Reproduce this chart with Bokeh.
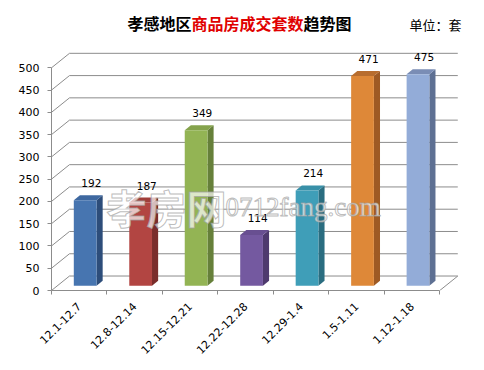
from math import pi
from bokeh.plotting import figure
from bokeh.models import Range1d, FixedTicker, Label, ColumnDataSource
from bokeh.core.properties import value
from bokeh.embed import file_html
from bokeh.resources import INLINE

# ---- data ----
categories = ["12.1-12.7", "12.8-12.14", "12.15-12.21", "12.22-12.28", "12.29-1.4", "1.5-1.11", "1.12-1.18"]
counts = [192, 187, 349, 114, 214, 471, 475]
y_ticks = [0, 50, 100, 150, 200, 250, 300, 350, 400, 450, 500]
title_parts = ["孝感地区", "商品房成交套数", "趋势图"]
unit_text = "单位：套"
watermark_cn = "孝房网"
watermark_en = "0712fang.com"

# ---- styles ----
front_colors = ["#4775B0", "#B24542", "#93B454", "#7459A0", "#3F9EB8", "#DE8838", "#93ACD8"]
side_colors = ["#2D4D7A", "#7A2D2B", "#66803A", "#4E3A6E", "#2A6D80", "#9E5A24", "#5E7093"]
top_colors = ["#3E68A0", "#A03E3B", "#85A34C", "#684F91", "#3890A8", "#B86D2E", "#7A8DB5"]
GRID = "#8C8C8C"
DEPTH_X = 0.3245   # wall depth in category units
DEPTH_Y = 32.5     # wall depth in value units
F0, F1 = 0.33, 0.67  # bar front/back position inside depth
BAR_W = 0.41
YMAX = y_ticks[-1]
X_END = 7.698      # plot area extends to the right for the unit label
Y_END = 642.1      # plot area extends upward to hold the title

n = len(categories)
p = figure(width=484, height=370, output_backend="svg", toolbar_location=None,
           x_range=Range1d(0, X_END), y_range=Range1d(0, Y_END),
           min_border_left=51, min_border_right=6, min_border_top=4, min_border_bottom=80)
p.outline_line_color = None
p.xgrid.visible = False
p.ygrid.visible = False
p.background_fill_color = "white"
p.border_fill_color = "white"
p.styles = {"outline": "1px solid #8C8C8C", "outline-offset": "-2px"}

# ---- walls: back gridlines, side-wall diagonals, floor edge ----
p.segment(x0=[DEPTH_X] * len(y_ticks), y0=[v + DEPTH_Y for v in y_ticks],
          x1=[n + DEPTH_X] * len(y_ticks), y1=[v + DEPTH_Y for v in y_ticks],
          line_color=GRID, line_width=1)
p.segment(x0=[0] * len(y_ticks), y0=y_ticks,
          x1=[DEPTH_X] * len(y_ticks), y1=[v + DEPTH_Y for v in y_ticks],
          line_color=GRID, line_width=1)
p.segment(x0=[n], y0=[0], x1=[n + DEPTH_X], y1=[DEPTH_Y], line_color=GRID, line_width=1)

# ---- 3D bars ----
fd = F1 - F0
xl = [i + 0.5 + F0 * DEPTH_X - BAR_W / 2 for i in range(n)]
xr = [i + 0.5 + F0 * DEPTH_X + BAR_W / 2 for i in range(n)]
bot = [F0 * DEPTH_Y] * n
top = [v + F0 * DEPTH_Y for v in counts]

side_xs = [[xr[i], xr[i] + fd * DEPTH_X, xr[i] + fd * DEPTH_X, xr[i]] for i in range(n)]
side_ys = [[bot[i], bot[i] + fd * DEPTH_Y, top[i] + fd * DEPTH_Y, top[i]] for i in range(n)]
top_xs = [[xl[i], xr[i], xr[i] + fd * DEPTH_X, xl[i] + fd * DEPTH_X] for i in range(n)]
top_ys = [[top[i], top[i], top[i] + fd * DEPTH_Y, top[i] + fd * DEPTH_Y] for i in range(n)]

p.patches(xs=side_xs, ys=side_ys, fill_color=side_colors, line_color=None)
p.patches(xs=top_xs, ys=top_ys, fill_color=top_colors, line_color=None)
p.quad(left=xl, right=xr, bottom=bot, top=top, fill_color=front_colors, line_color=None)

# ---- value labels ----
lab_src = ColumnDataSource(dict(x=[i + 0.5 + F1 * DEPTH_X for i in range(n)],
                                y=[v + F1 * DEPTH_Y for v in counts],
                                t=[str(v) for v in counts]))
p.text(x="x", y="y", text="t", source=lab_src, text_align="center", text_baseline="bottom",
       y_offset=-8, text_font=value("DejaVu Sans"), text_font_size="10.5px", text_color="black")

# ---- axes ----
p.yaxis.ticker = FixedTicker(ticks=y_ticks, minor_ticks=[])
p.yaxis.bounds = (0, YMAX)
p.yaxis.axis_line_color = GRID
p.yaxis.major_tick_line_color = GRID
p.yaxis.major_tick_in = 0
p.yaxis.major_tick_out = 4
p.yaxis.minor_tick_line_color = None
p.yaxis.major_label_standoff = 8
p.yaxis.major_label_text_font = "DejaVu Sans"
p.yaxis.major_label_text_font_size = "11px"
p.yaxis.major_label_text_color = "black"

centers = [i + 0.5 for i in range(n)]
p.xaxis.ticker = FixedTicker(ticks=centers, minor_ticks=list(range(n + 1)))
p.xaxis.major_label_overrides = {c: lab for c, lab in zip(centers, categories)}
p.xaxis.bounds = (0, n)
p.xaxis.axis_line_color = GRID
p.xaxis.major_tick_line_color = None
p.xaxis.minor_tick_line_color = GRID
p.xaxis.minor_tick_in = 0
p.xaxis.minor_tick_out = 4
p.xaxis.major_label_orientation = pi / 4
p.xaxis.major_label_standoff = 8
p.xaxis.major_label_text_font = "DejaVu Sans"
p.xaxis.major_label_text_font_size = "11px"
p.xaxis.major_label_text_color = "black"

# ---- watermark ----
p.add_layout(Label(x=55, y=84, x_units="screen", y_units="screen", text=watermark_cn,
                   text_font="Noto Sans CJK SC", text_font_style="bold", text_font_size="40px",
                   text_color="white", text_alpha=0.7, text_outline_color="#A0A0A0",
                   text_baseline="middle"))
p.add_layout(Label(x=174, y=84, x_units="screen", y_units="screen", text=watermark_en,
                   text_font="Liberation Serif", text_font_size="27px",
                   text_color="white", text_alpha=0.7, text_outline_color="#A0A0A0",
                   text_baseline="alphabetic"))

# ---- title ----
TFS = 16
tx = 76
colors_t = ["black", "#E00000", "black"]
offset = 0
for part, col in zip(title_parts, colors_t):
    p.add_layout(Label(x=tx + offset, y=268, x_units="screen", y_units="screen", text=part,
                       text_font="Noto Sans CJK SC", text_font_style="bold",
                       text_font_size=f"{TFS}px", text_color=col, text_baseline="middle"))
    offset += len(part) * TFS
p.add_layout(Label(x=358, y=266, x_units="screen", y_units="screen", text=unit_text,
                   text_font="Noto Sans CJK SC", text_font_size="13px", text_color="black",
                   text_baseline="middle"))

open("out.html", "w").write(file_html(p, INLINE))
